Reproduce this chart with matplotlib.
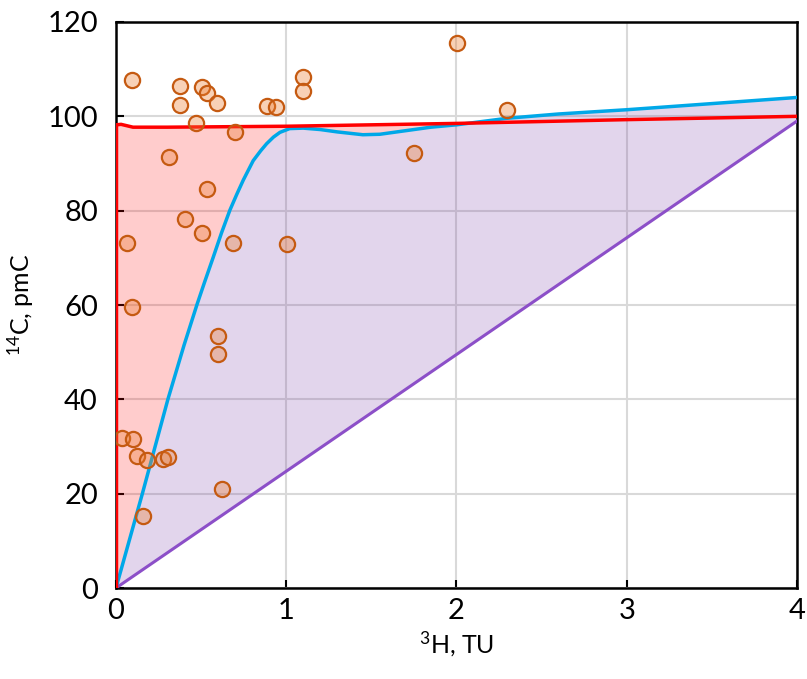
import matplotlib
matplotlib.use("Agg")
import matplotlib.pyplot as plt
import numpy as np

# --- data ---
h3 = [0.092, 0.376, 0.503, 0.532, 0.376, 0.591, 0.885, 0.938, 1.100, 1.100,
      2.002, 2.296, 0.468, 0.699, 0.311, 1.748, 0.532, 0.405, 0.503, 0.063,
      0.689, 1.002, 0.096, 0.597, 0.597, 0.033, 0.098, 0.121, 0.180, 0.278,
      0.307, 0.622, 0.158]
c14 = [107.7, 106.5, 106.3, 105.0, 102.4, 102.9, 102.2, 101.9, 108.4, 105.4,
       115.5, 101.3, 98.6, 96.7, 91.4, 92.2, 84.7, 78.2, 75.2, 73.2,
       73.2, 72.9, 59.5, 53.5, 49.7, 31.8, 31.6, 28.0, 27.1, 27.3,
       27.8, 20.9, 15.3]

blue_x = [0, 0.155, 0.305, 0.40, 0.475, 0.52, 0.571, 0.62, 0.669, 0.71,
          0.748, 0.806, 0.85, 0.885, 0.925, 0.963, 1.02, 1.10, 1.20, 1.30,
          1.45, 1.55, 1.65, 1.85, 2.00, 2.30, 2.60, 3.00, 3.50, 4.00]
blue_y = [0, 20, 40, 51.5, 60, 64.8, 70.1, 75.3, 80.1, 83.5,
          86.5, 90.6, 92.7, 94.2, 95.6, 96.6, 97.4, 97.5, 97.2, 96.7,
          96.1, 96.2, 96.7, 97.7, 98.2, 99.6, 100.5, 101.4, 102.7, 104.0]

red_x = [0, 0.03, 0.10, 0.30, 1.00, 2.00, 3.00, 4.00]
red_y = [98.2, 98.3, 97.7, 97.7, 97.9, 98.5, 99.3, 100.0]

purple_x = [0, 4]
purple_y = [0, 99]

xticks = [0, 1, 2, 3, 4]
yticks = [0, 20, 40, 60, 80, 100, 120]

# --- figure ---
fam = ['Lato', 'DejaVu Sans']
plt.rcParams['font.family'] = fam
plt.rcParams['mathtext.fontset'] = 'custom'
plt.rcParams['mathtext.rm'] = 'Lato'
plt.rcParams['mathtext.it'] = 'Lato:italic'
plt.rcParams['mathtext.bf'] = 'Lato:bold'
plt.rcParams['mathtext.default'] = 'regular'

fig = plt.figure(figsize=(8.07, 6.79), dpi=100)
ax = fig.add_axes([0.1437, 0.134, 0.8439, 0.8336])

ax.set_axisbelow(True)
ax.grid(True, color='#D9D9D9', linewidth=1.5, zorder=0)

# fills
bx = np.array(blue_x, dtype=float)
by = np.array(blue_y, dtype=float)
ry = np.interp(bx, red_x, red_y)
py = np.interp(bx, purple_x, purple_y)
ax.fill_between(bx, by, ry, where=ry >= by, interpolate=True,
                color='#FF0000', alpha=0.2, linewidth=0, zorder=1)
ax.fill_between(bx, py, by, color='#7030A0', alpha=0.2, linewidth=0, zorder=1)

# lines
ax.plot(purple_x, purple_y, color='#8C4FC8', linewidth=2.2, zorder=3)
ax.plot(blue_x, blue_y, color='#00A8E8', linewidth=2.5, zorder=3,
        solid_joinstyle='round')
ax.plot(red_x, red_y, color='#FF0000', linewidth=2.5, zorder=3)
ax.plot([0, 0], [0, red_y[0]], color='#FF0000', linewidth=2.5, zorder=3)

# points
ax.scatter(h3, c14, s=120, facecolor=(0.93, 0.49, 0.19, 0.35),
           edgecolor='#C55A11', linewidth=1.6, zorder=5)

ax.set_xlim(0, 4)
ax.set_ylim(0, 120)
ax.set_xticks(xticks)
ax.set_yticks(yticks)
ax.tick_params(direction='in', length=6, width=1.5, labelsize=21)
ax.tick_params(axis='y', pad=13)
ax.tick_params(axis='x', pad=7)
for s in ax.spines.values():
    s.set_linewidth(1.8)
    s.set_color('black')

ax.set_xlabel(r'$^{3}$H, TU', fontsize=18, labelpad=4)
ax.set_ylabel(r'$^{14}$C, pmC', fontsize=18, labelpad=8)

fig.savefig('out.png', dpi=100)
